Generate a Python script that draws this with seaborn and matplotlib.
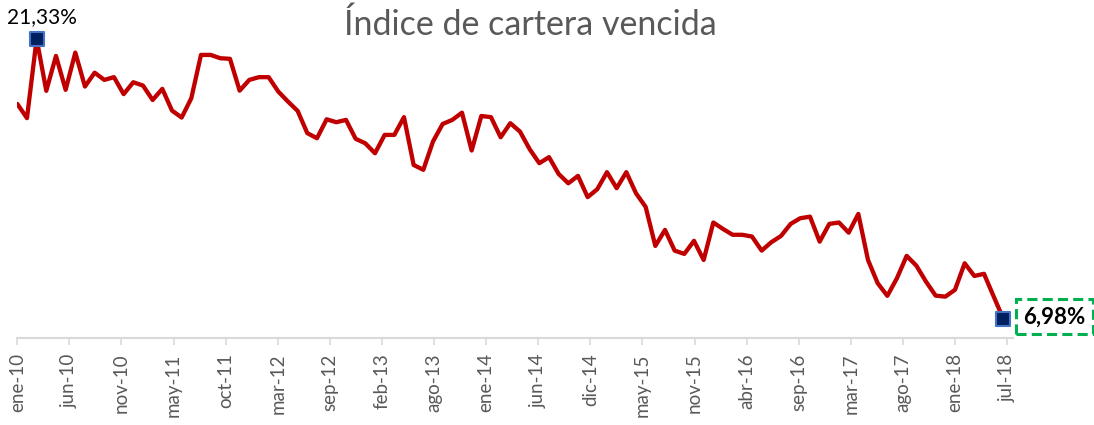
import numpy as np
import pandas as pd
import matplotlib
matplotlib.use("Agg")
import matplotlib.pyplot as plt
import seaborn as sns

# Índice de cartera vencida (%), mensual ene-10 .. jul-18
indice = [18.00, 17.27, 21.33, 18.67, 20.46, 18.72, 20.63, 18.89, 19.60, 19.23,
          19.37, 18.50, 19.11, 18.94, 18.20, 18.77, 17.66, 17.30, 18.29, 20.51,
          20.51, 20.34, 20.31, 18.68, 19.23, 19.37, 19.37, 18.63, 18.12, 17.64,
          16.50, 16.24, 17.21, 17.06, 17.18, 16.21, 15.98, 15.47, 16.41, 16.41,
          17.32, 14.87, 14.62, 16.07, 16.97, 17.18, 17.55, 15.61, 17.38, 17.32,
          16.29, 17.01, 16.58, 15.68, 14.96, 15.27, 14.41, 13.93, 14.31, 13.22,
          13.63, 14.50, 13.68, 14.50, 13.42, 12.72, 10.72, 11.54, 10.48, 10.31,
          10.98, 10.00, 11.92, 11.59, 11.29, 11.29, 11.20, 10.48, 10.91, 11.23,
          11.85, 12.14, 12.22, 10.94, 11.85, 11.92, 11.40, 12.36, 10.00, 8.81,
          8.16, 9.07, 10.21, 9.71, 8.89, 8.17, 8.12, 8.47, 9.83, 9.18,
          9.29, 8.13, 6.98]
meses = list(range(len(indice)))

etiquetas = ['ene-10', 'jun-10', 'nov-10', 'may-11', 'oct-11', 'mar-12', 'sep-12',
             'feb-13', 'ago-13', 'ene-14', 'jun-14', 'dic-14', 'may-15', 'nov-15',
             'abr-16', 'sep-16', 'mar-17', 'ago-17', 'ene-18', 'jul-18']

df = pd.DataFrame({'mes': meses, 'indice': indice})

sns.set_style('white')
plt.rcParams['font.family'] = ['Lato', 'DejaVu Sans']

fig = plt.figure(figsize=(10.94, 4.25), dpi=100)
ax = fig.add_axes([17.3 / 1094, 87 / 425, (1013 - 17.3) / 1094, 318 / 425])

sns.lineplot(data=df, x='mes', y='indice', color='#C00000', linewidth=3.1, ax=ax)

# puntos destacados: máximo y último dato
i_max = df['indice'].idxmax()
i_ult = len(df) - 1
destacados = df.loc[[i_max, i_ult]]
sns.scatterplot(data=destacados, x='mes', y='indice', marker='s', s=115,
                color='#002060', edgecolor='#4472C4', linewidth=1.5, zorder=5, ax=ax)

ax.annotate(f"{df['indice'][i_max]:.2f}%".replace('.', ','),
            (df['mes'][i_max], df['indice'][i_max]),
            xytext=(5, 22), textcoords='offset pixels', ha='center', va='center',
            fontsize=15, color='black')
ax.annotate(f"{df['indice'][i_ult]:.2f}%".replace('.', ','),
            (df['mes'][i_ult], df['indice'][i_ult]),
            xytext=(20, 2), textcoords='offset pixels', ha='left', va='center',
            fontsize=16, fontweight='bold', color='black',
            bbox=dict(boxstyle='square,pad=0.32', facecolor='white',
                      edgecolor='#00B050', linestyle=(0, (3.3, 1.7)), linewidth=2.2))

ax.set_xlim(0, 103)
ax.set_ylim(6.0, 22.3)
ax.set_xticks(np.linspace(0, 102.4, len(etiquetas)))
ax.set_xticklabels(etiquetas, rotation=90, fontsize=13.5, color='#595959')
ax.set_yticks([])
ax.set_xlabel('')
ax.set_ylabel('')
ax.tick_params(axis='x', length=5, width=1.2, color='#D9D9D9', pad=6, bottom=True)
for lado in ['top', 'right', 'left']:
    ax.spines[lado].set_visible(False)
ax.spines['bottom'].set_color('#D9D9D9')
ax.spines['bottom'].set_linewidth(1.5)
ax.patch.set_alpha(0)

fig.text(530 / 1094, 1 - 25 / 425, 'Índice de cartera vencida', ha='center', va='center',
         fontsize=24.5, color='#595959')

fig.savefig('out.png', dpi=100)
